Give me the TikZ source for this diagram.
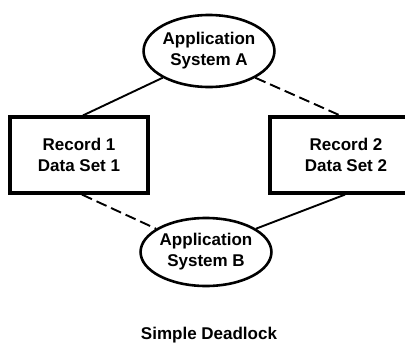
\documentclass[tikz,border=0pt]{standalone}
\usepackage{fontspec}
\setmainfont{Liberation Sans}
\usetikzlibrary{shapes.geometric}
\tikzset{
  label font/.style={font=\fontsize{17}{21}\selectfont\bfseries},
  appsys/.style={ellipse, draw, line width=2.6pt, minimum width=130pt, minimum height=72pt, inner sep=0pt, align=center, label font},
  recbox/.style={rectangle, draw, line width=3.2pt, minimum width=138pt, minimum height=76pt, inner sep=0pt, align=center, label font},
  holds/.style={line width=1.9pt},
  waits/.style={line width=1.9pt, dash pattern=on 11pt off 5pt},
}
\begin{document}
\begin{tikzpicture}[x=1pt, y=-1pt]
  \useasboundingbox (0,0) rectangle (405,354);
  \clip (0,0) rectangle (405,354);
  \node[appsys] (A) at (209,51) {Application\\System A};
  \node[appsys, minimum width=122pt, minimum height=68pt] (B) at (206,252) {Application\\System B};
  \node[recbox] (R1) at (79,155) {Record 1\\Data Set 1};
  \node[recbox, minimum width=152pt] (R2) at (346,155) {Record 2\\Data Set 2};
  \node[label font] (cap) at (209,335) {Simple Deadlock};
  \draw[holds] (A.210) -- ([xshift=4pt]R1.north);
  \draw[waits] (A.330) -- ([xshift=-6pt]R2.north);
  \draw[waits] ([xshift=3pt]R1.south) -- (B.155);
  \draw[holds] (B.25) -- ([xshift=-1pt]R2.south);
\end{tikzpicture}
\end{document}
